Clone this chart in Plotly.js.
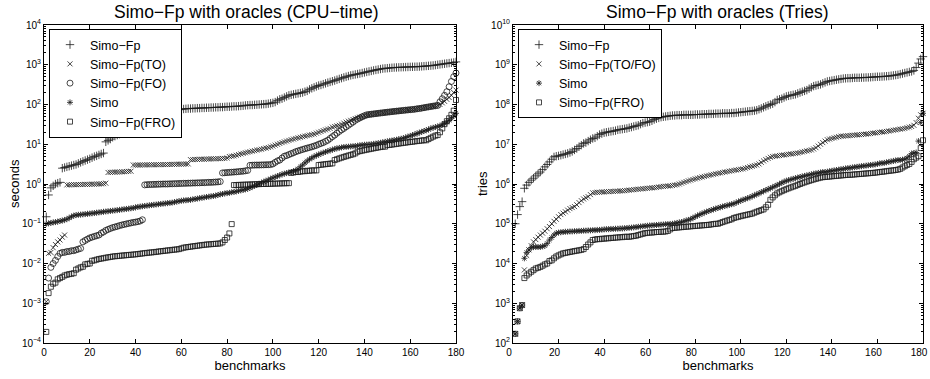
<!DOCTYPE html>
<html>
<head>
<meta charset="utf-8">
<script src="https://cdn.plot.ly/plotly-3.0.1.min.js"></script>
<style>html,body{margin:0;padding:0;background:#fff;} #chart{width:930px;height:379px;}</style>
</head>
<body>
<div id="chart"></div>
<script>
// ---------- LEFT: CPU-time (seconds) ----------
var cpuSimoFp = [0.15,0.53,0.8,0.9,1.0,1.05,1.1,2.5,2.6,2.7,
2.8,2.9,3.0,3.1,3.3,3.5,3.7,3.9,4.1,4.3,
4.6,4.9,5.1,5.4,5.7,6.0,11.5,12.5,13.5,15,
16,17,18,19,20,21,22,23.5,25,26,
28,30,32,34,35,38,41,44,46,48,
51,54,57,60,62,65,68,72,74,76,
77,78,79,79,80,80,81,81,82,82,
83,83,84,84,85,85,86,86,87,88,
88,89,90,90,91,92,93,95,96,97,
97,98,99,100,101,102,103,105,108,110,
115,125,135,140,150,160,170,175,180,185,
190,195,200,210,220,240,255,270,285,300,
310,325,340,355,370,385,400,420,440,460,
480,500,520,540,555,570,585,600,620,640,
660,680,700,720,740,760,780,800,810,820,
830,840,850,855,860,865,870,875,880,885,
888,890,895,900,910,920,930,940,950,960,
980,1000,1020,1040,1060,1080,1100,1120,1140,1180];

var cpuTO = [0.0011,0.018,0.019,0.025,0.03,0.035,0.039,0.046,0.052,0.95,
0.95,0.96,0.96,0.96,0.97,0.97,0.97,0.98,0.98,0.98,
0.99,0.99,1.0,1.0,1.01,1.02,1.05,1.95,1.97,1.98,
1.99,2.0,2.0,2.02,2.04,2.06,2.08,2.1,3.0,3.0,
3.0,3.0,3.02,3.02,3.04,3.04,3.05,3.05,3.06,3.06,
3.07,3.08,3.08,3.1,3.1,3.12,3.13,3.14,3.15,3.16,
3.17,3.18,3.2,4.1,4.1,4.15,4.15,4.2,4.2,4.2,
4.25,4.25,4.3,4.3,4.3,4.35,4.35,4.4,4.4,4.5,
4.9,5.0,5.1,5.3,5.5,5.7,5.9,6.1,6.3,6.5,
6.7,6.9,7.1,7.3,7.5,7.8,8.0,8.3,8.6,9.0,
9.5,10,10.5,11,11.5,12,12.5,13,13.5,14,
14.5,15,15.5,16,16.5,17,17.5,18,19,20,
21,22,23,24,25,27,28,29,30,32,
34,36,38,40,42,44,46,48,50,52,
54,55,57,58,59,60,61,62,63,64,
65,66,67,68,69,70,71,72,73,74,
75,77,79,80,82,84,85,87,89,91,
93,95,100,110,120,135,150,170,200,230];

var cpuFO = [0.0011,0.0043,0.008,0.01,0.012,0.015,0.018,0.019,0.019,0.02,
0.02,0.021,0.021,0.022,0.023,0.024,0.035,0.038,0.041,0.044,
0.046,0.048,0.05,0.052,0.058,0.062,0.068,0.072,0.076,0.08,
0.083,0.086,0.09,0.093,0.096,0.099,0.102,0.105,0.108,0.11,
0.113,0.117,0.126,0.95,0.96,0.97,0.97,0.98,0.98,0.99,
0.99,1.0,1.0,1.0,1.01,1.01,1.02,1.02,1.03,1.03,
1.04,1.04,1.05,1.05,1.06,1.06,1.07,1.07,1.08,1.08,
1.09,1.1,1.1,1.11,1.12,1.13,1.15,1.9,1.92,1.94,
1.96,1.98,2.0,2.02,2.05,2.08,2.1,2.15,2.2,2.95,
2.97,2.99,3.0,3.0,3.02,3.03,3.05,3.06,3.08,3.2,
3.5,3.8,4.0,4.5,5.0,5.2,5.5,5.8,6.1,6.5,
6.8,7.1,7.4,7.7,8.0,8.3,8.6,9.0,9.4,10,
10.5,11,11.8,12.6,14,15.5,17,19,21,23,
25,27.5,30,33,36,40,43,46,49,52,
55,56,57,58,59,60,61,62,63,64,
65,66,67,68,69,70,71,72,73,74,
75,76,78,79,81,83,85,87,89,91,
93,95,117,140,170,210,280,380,500,620];

var cpuSimo = [0.1,0.102,0.105,0.108,0.11,0.113,0.117,0.12,0.125,0.13,
0.14,0.15,0.16,0.165,0.168,0.17,0.172,0.175,0.178,0.18,
0.183,0.186,0.19,0.193,0.196,0.2,0.203,0.206,0.21,0.213,
0.216,0.22,0.224,0.228,0.232,0.236,0.24,0.245,0.25,0.258,
0.265,0.27,0.275,0.28,0.285,0.29,0.295,0.3,0.305,0.31,
0.315,0.32,0.325,0.33,0.335,0.34,0.35,0.36,0.37,0.38,
0.385,0.39,0.395,0.4,0.41,0.42,0.43,0.44,0.45,0.46,
0.47,0.48,0.49,0.5,0.51,0.53,0.55,0.56,0.58,0.59,
0.6,0.62,0.63,0.65,0.67,0.69,0.71,0.73,0.76,0.8,
0.85,0.9,0.95,1.0,1.07,1.14,1.2,1.27,1.35,1.43,
1.5,1.58,1.66,1.75,1.82,1.88,1.95,2.0,2.1,2.2,
2.4,2.7,3.0,3.4,3.8,4.2,4.5,4.9,5.2,5.5,
5.8,6.1,6.4,6.7,7.0,7.3,7.6,7.9,8.1,8.3,
8.5,8.6,8.7,8.8,8.9,9.0,9.2,9.4,9.6,9.7,
9.8,9.9,10.0,10.2,10.4,10.6,10.9,11.2,11.5,11.8,
12.1,12.4,12.7,13.0,13.4,13.8,14.2,14.8,15.5,16.2,
17,17.8,18.6,19.5,20.5,21.5,22.5,23.5,25,26,
27,28,29,31,33,36,40,45,52,60];

var cpuFRO = [0.00019,0.0018,0.0026,0.0031,0.0033,0.004,0.0043,0.0046,0.005,0.0052,
0.0054,0.0055,0.0057,0.007,0.0075,0.008,0.0083,0.0095,0.0098,0.01,
0.0117,0.012,0.0125,0.013,0.0133,0.0136,0.014,0.0143,0.0146,0.015,
0.0152,0.0154,0.0156,0.0158,0.016,0.0162,0.0164,0.0166,0.0168,0.017,
0.0173,0.0176,0.0179,0.0182,0.0185,0.0188,0.019,0.0193,0.0196,0.02,
0.0203,0.0206,0.021,0.0213,0.0216,0.022,0.0223,0.0226,0.023,0.024,
0.025,0.0255,0.026,0.0265,0.027,0.0275,0.028,0.0285,0.029,0.0295,
0.03,0.0303,0.0306,0.031,0.0313,0.0316,0.032,0.034,0.039,0.045,
0.057,0.098,0.94,0.94,0.95,0.95,0.96,0.96,0.97,0.97,
0.98,0.98,0.99,0.99,1.0,1.0,1.0,1.01,1.01,1.02,
1.02,1.03,1.03,1.04,1.04,1.05,1.05,1.9,1.95,2.0,
2.0,2.05,2.1,2.1,2.15,2.15,2.2,2.2,2.2,3.0,
3.05,3.1,3.15,3.2,3.25,3.3,4.0,4.2,4.4,4.6,
4.8,5.0,5.2,5.4,5.6,5.9,6.5,6.7,6.9,7.1,
7.3,7.5,7.7,7.9,8.1,8.3,8.5,8.7,8.7,9.5,
9.6,9.8,10.0,10.2,10.4,10.6,10.8,11.0,11.2,11.4,
11.6,11.8,12.0,12.2,12.4,12.6,12.6,13.5,14.5,15.5,
16.5,17,20,25,32,38,45,55,70,130];

// ---------- RIGHT: Tries ----------
var trySimoFp = [1.0e5,1.7e5,2.7e5,3.6e5,7.8e5,9.4e5,1.1e6,1.25e6,1.4e6,1.6e6,
1.8e6,2.0e6,2.3e6,2.7e6,3.1e6,3.6e6,4.2e6,4.8e6,5.0e6,5.1e6,
5.3e6,5.5e6,5.7e6,5.9e6,6.2e6,6.6e6,7.2e6,7.8e6,8.7e6,9.5e6,
1.05e7,1.1e7,1.2e7,1.3e7,1.4e7,1.45e7,1.6e7,1.75e7,1.85e7,1.95e7,
2.0e7,2.05e7,2.1e7,2.15e7,2.2e7,2.3e7,2.35e7,2.4e7,2.45e7,2.5e7,
2.6e7,2.7e7,2.8e7,2.9e7,3.0e7,3.2e7,3.4e7,3.5e7,3.6e7,3.7e7,
3.9e7,4.2e7,4.4e7,4.6e7,4.8e7,4.9e7,5.0e7,5.1e7,5.2e7,5.3e7,
5.3e7,5.4e7,5.4e7,5.4e7,5.5e7,5.5e7,5.5e7,5.5e7,5.5e7,5.6e7,
5.6e7,5.6e7,5.7e7,5.7e7,5.7e7,5.8e7,5.8e7,5.8e7,5.9e7,5.9e7,
5.9e7,6.0e7,6.0e7,6.0e7,6.0e7,6.1e7,6.1e7,6.2e7,6.3e7,6.4e7,
6.5e7,6.6e7,6.7e7,6.8e7,6.9e7,7.0e7,7.2e7,7.6e7,8.0e7,8.5e7,
9.0e7,9.5e7,1.0e8,1.05e8,1.15e8,1.3e8,1.35e8,1.4e8,1.5e8,1.6e8,
1.65e8,1.7e8,1.75e8,1.8e8,1.9e8,2.0e8,2.1e8,2.2e8,2.3e8,2.5e8,
2.7e8,2.9e8,3.0e8,3.1e8,3.2e8,3.4e8,3.6e8,3.8e8,3.9e8,4.0e8,
4.1e8,4.2e8,4.3e8,4.4e8,4.5e8,4.55e8,4.6e8,4.6e8,4.65e8,4.7e8,
4.7e8,4.7e8,4.75e8,4.75e8,4.8e8,4.8e8,4.85e8,4.9e8,4.95e8,5.0e8,
5.0e8,5.05e8,5.1e8,5.15e8,5.2e8,5.3e8,5.4e8,5.5e8,5.6e8,5.8e8,
6.0e8,6.2e8,6.4e8,6.6e8,6.8e8,7.2e8,8.5e8,1.1e9,1.4e9,1.6e9];

var tryTOFO = [170,350,750,900,6.9e3,1.6e4,2.2e4,2.8e4,3.5e4,4.0e4,
4.6e4,5.2e4,5.8e4,6.5e4,7.5e4,8.5e4,1.0e5,1.15e5,1.3e5,1.5e5,
1.7e5,1.85e5,2.0e5,2.2e5,2.4e5,2.55e5,2.7e5,3.0e5,3.4e5,3.8e5,
4.2e5,4.5e5,4.8e5,5.4e5,6.0e5,6.1e5,6.2e5,6.2e5,6.3e5,6.3e5,
6.4e5,6.4e5,6.5e5,6.5e5,6.6e5,6.6e5,6.7e5,6.7e5,6.8e5,6.9e5,
7.0e5,7.1e5,7.2e5,7.3e5,7.4e5,7.5e5,7.6e5,7.7e5,7.8e5,7.9e5,
8.0e5,8.1e5,8.2e5,8.4e5,8.6e5,8.7e5,8.8e5,8.9e5,9.0e5,9.2e5,
9.4e5,9.6e5,1.0e6,1.05e6,1.1e6,1.15e6,1.2e6,1.25e6,1.3e6,1.35e6,
1.4e6,1.45e6,1.5e6,1.55e6,1.6e6,1.65e6,1.7e6,1.75e6,1.8e6,1.85e6,
1.9e6,1.95e6,2.0e6,2.05e6,2.1e6,2.15e6,2.2e6,2.25e6,2.3e6,2.35e6,
2.4e6,2.5e6,2.6e6,2.7e6,2.8e6,2.9e6,3.0e6,3.2e6,3.5e6,3.8e6,
4.1e6,4.4e6,4.7e6,4.9e6,5.0e6,5.1e6,5.2e6,5.3e6,5.4e6,5.5e6,
5.6e6,5.7e6,5.8e6,5.9e6,6.0e6,6.2e6,6.4e6,6.6e6,6.8e6,7.0e6,
7.2e6,7.6e6,8.2e6,9.0e6,1.0e7,1.1e7,1.2e7,1.3e7,1.35e7,1.4e7,
1.45e7,1.5e7,1.55e7,1.6e7,1.6e7,1.62e7,1.64e7,1.66e7,1.68e7,1.7e7,
1.72e7,1.74e7,1.76e7,1.78e7,1.8e7,1.83e7,1.86e7,1.9e7,1.93e7,1.96e7,
2.0e7,2.03e7,2.06e7,2.1e7,2.15e7,2.2e7,2.25e7,2.3e7,2.35e7,2.4e7,
2.45e7,2.5e7,2.6e7,2.7e7,2.8e7,3.0e7,3.5e7,4.5e7,5.5e7,6.0e7];

var trySimo = [170,350,750,900,1.35e4,1.9e4,2.2e4,2.5e4,2.6e4,2.6e4,
2.6e4,2.6e4,2.7e4,2.8e4,3.2e4,3.9e4,4.5e4,5.2e4,5.8e4,6.0e4,
6.1e4,6.2e4,6.3e4,6.3e4,6.4e4,6.4e4,6.5e4,6.5e4,6.6e4,6.6e4,
6.7e4,6.7e4,6.8e4,6.8e4,6.9e4,6.9e4,7.0e4,7.0e4,7.1e4,7.2e4,
7.3e4,7.3e4,7.4e4,7.4e4,7.5e4,7.5e4,7.6e4,7.6e4,7.7e4,7.8e4,
7.9e4,8.0e4,8.1e4,8.2e4,8.4e4,8.5e4,8.6e4,8.8e4,8.9e4,9.0e4,
9.1e4,9.2e4,9.3e4,9.4e4,9.5e4,9.6e4,9.7e4,9.8e4,9.9e4,1.0e5,
1.02e5,1.05e5,1.08e5,1.1e5,1.15e5,1.2e5,1.25e5,1.3e5,1.4e5,1.5e5,
1.6e5,1.7e5,1.8e5,1.9e5,2.0e5,2.1e5,2.2e5,2.3e5,2.4e5,2.5e5,
2.6e5,2.7e5,2.8e5,2.9e5,3.0e5,3.1e5,3.2e5,3.4e5,3.6e5,3.8e5,
4.0e5,4.2e5,4.4e5,4.6e5,4.9e5,5.2e5,5.5e5,5.8e5,6.2e5,6.6e5,
7.0e5,7.4e5,7.8e5,8.3e5,8.8e5,9.4e5,1.0e6,1.07e6,1.14e6,1.2e6,
1.25e6,1.3e6,1.35e6,1.4e6,1.45e6,1.5e6,1.55e6,1.6e6,1.65e6,1.7e6,
1.75e6,1.8e6,1.85e6,1.9e6,1.95e6,2.0e6,2.0e6,2.05e6,2.1e6,2.15e6,
2.2e6,2.25e6,2.3e6,2.35e6,2.4e6,2.45e6,2.5e6,2.55e6,2.6e6,2.65e6,
2.7e6,2.75e6,2.8e6,2.85e6,2.9e6,2.95e6,3.0e6,3.05e6,3.1e6,3.2e6,
3.3e6,3.35e6,3.4e6,3.5e6,3.6e6,3.7e6,3.8e6,3.9e6,4.0e6,4.0e6,
4.1e6,4.2e6,4.5e6,5.0e6,5.8e6,6.0e6,6.2e6,1.2e7,3.5e7,6.0e7];

var tryFRO = [170,350,750,900,4.3e3,5.0e3,5.6e3,6.2e3,6.8e3,7.5e3,
7.8e3,8.2e3,8.8e3,9.5e3,1.0e4,1.15e4,1.2e4,1.35e4,1.5e4,1.6e4,
1.7e4,1.8e4,1.85e4,1.9e4,1.95e4,2.0e4,2.05e4,2.1e4,2.15e4,2.2e4,
2.3e4,2.6e4,3.0e4,3.4e4,3.9e4,4.0e4,4.1e4,4.1e4,4.2e4,4.2e4,
4.3e4,4.3e4,4.4e4,4.4e4,4.5e4,4.5e4,4.6e4,4.6e4,4.7e4,4.7e4,
4.7e4,4.8e4,4.9e4,5.0e4,5.2e4,5.4e4,5.6e4,5.8e4,5.9e4,6.0e4,
6.0e4,6.1e4,6.2e4,6.2e4,6.3e4,6.3e4,6.4e4,6.6e4,7.2e4,7.8e4,
7.9e4,8.0e4,8.1e4,8.2e4,8.3e4,8.4e4,8.5e4,8.6e4,8.7e4,8.8e4,
8.9e4,9.0e4,9.1e4,9.2e4,9.3e4,9.4e4,9.6e4,9.8e4,1.0e5,1.0e5,
1.05e5,1.1e5,1.15e5,1.2e5,1.25e5,1.3e5,1.4e5,1.45e5,1.5e5,1.55e5,
1.6e5,1.65e5,1.7e5,1.75e5,1.8e5,1.9e5,2.0e5,2.1e5,2.2e5,2.3e5,
2.6e5,3.0e5,4.0e5,4.6e5,5.2e5,5.8e5,6.2e5,6.6e5,7.0e5,7.4e5,
7.8e5,8.2e5,8.6e5,9.0e5,9.5e5,1.0e6,1.05e6,1.1e6,1.15e6,1.2e6,
1.25e6,1.3e6,1.35e6,1.4e6,1.45e6,1.48e6,1.5e6,1.52e6,1.54e6,1.56e6,
1.58e6,1.6e6,1.62e6,1.64e6,1.66e6,1.68e6,1.7e6,1.7e6,1.72e6,1.74e6,
1.76e6,1.78e6,1.8e6,1.82e6,1.84e6,1.86e6,1.88e6,1.9e6,1.93e6,1.96e6,
2.0e6,2.03e6,2.06e6,2.1e6,2.14e6,2.18e6,2.2e6,2.25e6,2.3e6,2.4e6,
2.6e6,2.8e6,3.0e6,3.2e6,3.6e6,4.2e6,4.6e6,5.0e6,8.0e6,1.26e7];

var xTickVals = [0,20,40,60,80,100,120,140,160,180];
var leftYTickVals = [1e-4,1e-3,1e-2,1e-1,1,10,100,1000,10000];
var leftYTickText = ['10<sup>−4</sup>','10<sup>−3</sup>','10<sup>−2</sup>','10<sup>−1</sup>','10<sup>0</sup>','10<sup>1</sup>','10<sup>2</sup>','10<sup>3</sup>','10<sup>4</sup>'];
var rightYTickVals = [1e2,1e3,1e4,1e5,1e6,1e7,1e8,1e9,1e10];
var rightYTickText = ['10<sup>2</sup>','10<sup>3</sup>','10<sup>4</sup>','10<sup>5</sup>','10<sup>6</sup>','10<sup>7</sup>','10<sup>8</sup>','10<sup>9</sup>','10<sup>10</sup>'];

function idx(arr){ var o=[]; for(var i=0;i<arr.length;i++) o.push(i+1); return o; }

var FONT = 'Liberation Sans, Arial, Helvetica, sans-serif';
var INK = '#1a1a1a';

function tr(y, name, sym, size, xa, ya, lg){
  return {
    x: idx(y), y: y, name: name, type: 'scatter', mode: 'markers',
    xaxis: xa, yaxis: ya, legend: lg,
    marker: {symbol: sym, size: size, color: INK, line: {color: INK, width: 0.8}},
    cliponaxis: false
  };
}

var data = [
  tr(cpuSimoFp, 'Simo−Fp', 'cross-thin-open', 6, 'x', 'y', 'legend'),
  tr(cpuTO, 'Simo−Fp(TO)', 'x-thin-open', 5, 'x', 'y', 'legend'),
  tr(cpuFO, 'Simo−Fp(FO)', 'circle-open', 6, 'x', 'y', 'legend'),
  tr(cpuSimo, 'Simo', 'asterisk-open', 5, 'x', 'y', 'legend'),
  tr(cpuFRO, 'Simo−Fp(FRO)', 'square-open', 5, 'x', 'y', 'legend'),
  tr(trySimoFp, 'Simo−Fp', 'cross-thin-open', 6, 'x2', 'y2', 'legend2'),
  tr(tryTOFO, 'Simo−Fp(TO/FO)', 'x-thin-open', 5, 'x2', 'y2', 'legend2'),
  tr(trySimo, 'Simo', 'asterisk-open', 5, 'x2', 'y2', 'legend2'),
  tr(tryFRO, 'Simo−Fp(FRO)', 'square-open', 5, 'x2', 'y2', 'legend2')
];

function xax(dom, anchor, shift){
  return {
    domain: dom, anchor: anchor, range: [0, 180], tickvals: xTickVals,
    ticks: 'inside', ticklen: 4, tickcolor: '#000', mirror: 'ticks',
    showline: true, linecolor: '#000', linewidth: 1, showgrid: false, zeroline: false,
    ticklabeloverflow: 'allow', automargin: false, ticklabelshift: shift,
    tickfont: {family: FONT, size: 10, color: '#000'},
    title: {text: 'benchmarks', font: {family: FONT, size: 13, color: '#000'}, standoff: 1}
  };
}
function yax(dom, anchor, rng, tv, tt){
  return {
    domain: dom, anchor: anchor, type: 'log', range: rng, tickvals: tv, ticktext: tt,
    ticks: 'inside', ticklen: 4, tickcolor: '#000', mirror: 'ticks',
    minor: {ticks: 'inside', ticklen: 2, tickcolor: '#000', dtick: 'D1', showgrid: false},
    showline: true, linecolor: '#000', linewidth: 1, showgrid: false, zeroline: false,
    ticklabeloverflow: 'allow', automargin: false,
    tickfont: {family: FONT, size: 10, color: '#000'}
  };
}

var ydom = [36/379, 354/379];
var legendBase = {xanchor: 'left', yanchor: 'top', bgcolor: '#fff',
    bordercolor: '#000', borderwidth: 1, font: {family: FONT, size: 12.5, color: '#000'},
    itemsizing: 'trace', tracegroupgap: 0, itemwidth: 30};
function legendAt(x, y){ var o = JSON.parse(JSON.stringify(legendBase)); o.x = x; o.y = y; return o; }

var layout = {
  width: 930, height: 379,
  margin: {l: 0, r: 0, t: 0, b: 0},
  paper_bgcolor: '#fff', plot_bgcolor: '#fff',
  font: {family: FONT, color: '#000'},
  xaxis: xax([44/930, 456/930], 'y', 0),
  yaxis: yax(ydom, 'x', [-4, 4], leftYTickVals, leftYTickText),
  xaxis2: xax([513/930, 923/930], 'y2', -4),
  yaxis2: yax(ydom, 'x2', [2, 10], rightYTickVals, rightYTickText),
  legend: legendAt(49/930, 1 - 29/379),
  legend2: legendAt(518/930, 1 - 29/379),
  annotations: [
    {text: 'Simo−Fp with oracles (CPU−time)', xref: 'paper', yref: 'paper', x: 247/930, y: 1 - 12/379,
     xanchor: 'center', yanchor: 'middle', showarrow: false, font: {family: FONT, size: 17.5, color: '#000'}},
    {text: 'Simo−Fp with oracles (Tries)', xref: 'paper', yref: 'paper', x: 717/930, y: 1 - 12/379,
     xanchor: 'center', yanchor: 'middle', showarrow: false, font: {family: FONT, size: 17.5, color: '#000'}},
    {text: 'seconds', xref: 'paper', yref: 'paper', x: 15/930, y: 1 - 184/379, textangle: -90,
     xanchor: 'center', yanchor: 'middle', showarrow: false, font: {family: FONT, size: 13, color: '#000'}},
    {text: 'tries', xref: 'paper', yref: 'paper', x: 483/930, y: 1 - 184/379, textangle: -90,
     xanchor: 'center', yanchor: 'middle', showarrow: false, font: {family: FONT, size: 13, color: '#000'}}
  ],
  showlegend: true
};

Plotly.newPlot('chart', data, layout, {displayModeBar: false, staticPlot: true});
</script>
</body>
</html>
